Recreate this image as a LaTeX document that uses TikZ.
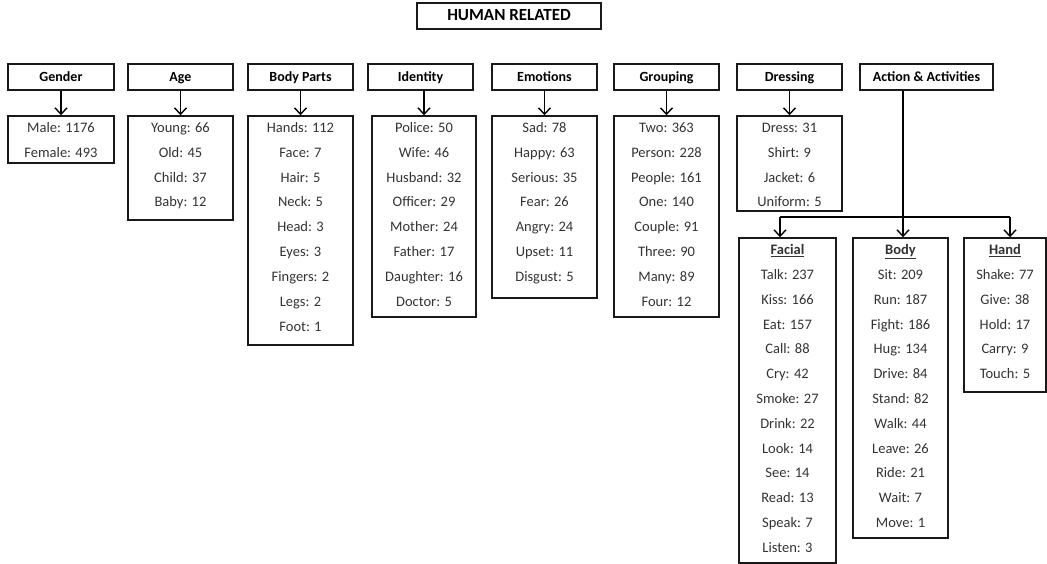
\documentclass[tikz,border=0pt]{standalone}
\usepackage{fontspec}
\setmainfont{Carlito}
\usetikzlibrary{arrows.meta}
\newcommand\mkhead[4]{\node[box, head, minimum width={(#3-#2)*1pt}, minimum height=26pt] (#1) at ({(#2+#3)/2},77) {#4};}
\newcommand\mklist[7]{%
  \node[box, minimum width={(#3-#2)*1pt}, minimum height={(#5-#4)*1pt}] (#1) at ({(#2+#3)/2},{(#4+#5)/2}) {};
  \foreach \itm [count=\i] in {#7} \node[item] (#1-\i) at ({(#2+#3)/2},{#6+(\i-1)*24.8+4.6}) {\itm};}
\begin{document}
\begin{tikzpicture}[x=1pt,y=-1pt,
  box/.style={draw=black!90, line width=1.4pt, inner sep=0pt, rectangle},
  item/.style={font=\fontsize{14.5}{16}\selectfont, text=black!80, inner sep=0pt, anchor=base},
  head/.style={font=\bfseries\fontsize{14}{16}\selectfont, text height=9pt, text depth=0pt},
  arr/.style={line width=1.4pt, -{Straight Barb[length=6.5pt,width=12pt,line width=1.4pt]}},
  conn/.style={line width=1.4pt}]
\useasboundingbox (0,0) rectangle (1047,564);
% title
\node[box, font=\bfseries\fontsize{17}{19}\selectfont, minimum width=184pt, minimum height=26pt, text height=10pt, text depth=0pt] (title) at (509,16) {HUMAN RELATED};
% headers
\mkhead{gh}{8}{114}{Gender}
\mkhead{ah}{128}{233}{Age}
\mkhead{bh}{248}{353}{Body Parts}
\mkhead{ih}{368}{473}{Identity}
\mkhead{eh}{492}{597}{Emotions}
\mkhead{grh}{614}{719}{Grouping}
\mkhead{dh}{737}{842}{Dressing}
\mkhead{acth}{860}{993}{Action \& Activities}
% lists
\mklist{gl}{8}{114}{116}{163}{128}{Male: 1176, Female: 493}
\mklist{al}{128}{233}{116}{220}{128}{Young: 66, Old: 45, Child: 37, Baby: 12}
\mklist{bl}{248}{353}{116}{345}{128}{Hands: 112, Face: 7, Hair: 5, Neck: 5, Head: 3, Eyes: 3, Fingers: 2, Legs: 2, Foot: 1}
\mklist{il}{372}{476}{116}{317}{128}{Police: 50, Wife: 46, Husband: 32, Officer: 29, Mother: 24, Father: 17, Daughter: 16, Doctor: 5}
\mklist{el}{492}{597}{116}{298}{128}{Sad: 78, Happy: 63, Serious: 35, Fear: 26, Angry: 24, Upset: 11, Disgust: 5}
\mklist{grl}{614}{719}{116}{317}{128}{Two: 363, Person: 228, People: 161, One: 140, Couple: 91, Three: 90, Many: 89, Four: 12}
\mklist{dl}{737}{842}{116}{211}{128}{Dress: 31, Shirt: 9, Jacket: 6, Uniform: 5}
% sub lists
\mklist{fac}{739}{836}{238}{563}{250}{\underline{\textbf{Facial}}, Talk: 237, Kiss: 166, Eat: 157, Call: 88, Cry: 42, Smoke: 27, Drink: 22, Look: 14, See: 14, Read: 13, Speak: 7, Listen: 3}
\mklist{bod}{853}{948}{238}{538}{250}{\underline{\textbf{Body}}, Sit: 209, Run: 187, Fight: 186, Hug: 134, Drive: 84, Stand: 82, Walk: 44, Leave: 26, Ride: 21, Wait: 7, Move: 1}
\mklist{han}{964}{1046}{238}{392}{250}{\underline{\textbf{Hand}}, Shake: 77, Give: 38, Hold: 17, Carry: 9, Touch: 5}
% arrows
\draw[arr] (gh.south) -- (gh.south |- gl.north);
\draw[arr] (ah.south) -- (ah.south |- al.north);
\draw[arr] (bh.south) -- (bh.south |- bl.north);
\draw[arr] (il.north |- ih.south) -- (il.north);
\draw[arr] (eh.south) -- (eh.south |- el.north);
\draw[arr] (grh.south) -- (grh.south |- grl.north);
\draw[arr] (dh.south) -- (dh.south |- dl.north);
% action branch
\coordinate (bm) at (903,217);
\coordinate (bleft) at (780,217);
\coordinate (bright) at (1010,217);
\draw[conn] (acth.south -| bm) -- (bm);
\draw[conn] (bleft) -- (bright);
\draw[arr] (bleft) -- (bleft |- fac.north);
\draw[arr] (bm) -- (bm |- bod.north);
\draw[arr] (bright) -- (bright |- han.north);
\end{tikzpicture}
\end{document}
